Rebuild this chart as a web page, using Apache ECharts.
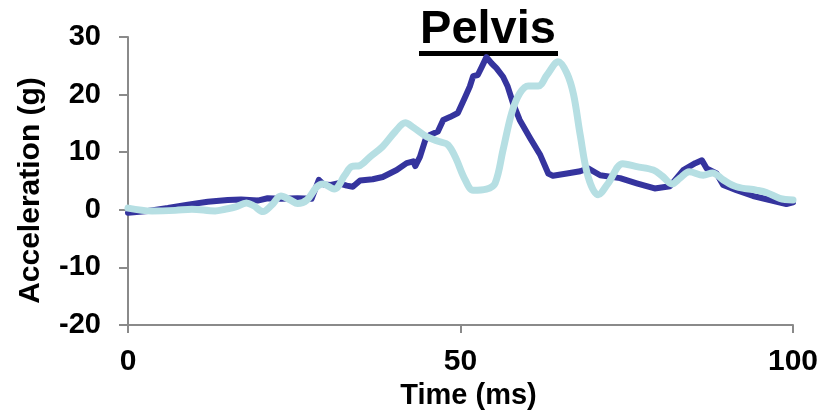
<!DOCTYPE html>
<html>
<head>
<meta charset="utf-8">
<script src="https://cdn.jsdelivr.net/npm/echarts@6/dist/echarts.min.js"></script>
<style>
  html, body { margin: 0; padding: 0; background: #ffffff; }
  #chart { width: 835px; height: 417px; }
</style>
</head>
<body>
<div id="chart"></div>
<script>
// Pelvis acceleration traces (g) against time (ms)
const chartTitle = 'Pelvis';
const xAxisTitle = 'Time (ms)';
const yAxisTitle = 'Acceleration (g)';

const xTicks = [0, 50, 100];
const yTicks = [-20, -10, 0, 10, 20, 30];

// Dark blue trace
const blueTime = [0, 3, 6, 9, 12, 15, 17, 19.5, 21, 23, 25.5, 27.6, 28.3, 28.7, 29.4, 30.5, 31.7, 32.9, 33.8, 34.9, 36.8, 38.3, 40.4, 41.9, 42.9, 43.2, 43.9, 44.7, 45.4, 46.6, 47.4, 48.4, 49.6, 50.7, 51.4, 51.9, 52.6, 53.2, 53.9, 54.7, 55.4, 56.4, 57.1, 57.9, 58.9, 60.5, 62, 63.2, 63.9, 66, 68, 69.2, 71, 74, 76.5, 79.2, 81.5, 83.5, 85.3, 86.3, 87, 88.5, 89.5, 91.5, 94, 96.5, 99, 100];
const blueAccel = [-0.5, -0.2, 0.3, 0.9, 1.4, 1.7, 1.8, 1.6, 2.0, 1.9, 2.0, 1.9, 4.0, 5.2, 4.4, 4.3, 4.6, 4.2, 4.0, 5.1, 5.3, 5.7, 6.9, 8.1, 8.4, 7.6, 9.2, 12.1, 13.0, 13.6, 15.6, 16.1, 16.8, 19.6, 21.4, 23.2, 23.4, 24.8, 26.5, 25.4, 24.6, 23.1, 21.4, 18.5, 15.6, 12.4, 9.5, 6.3, 5.9, 6.3, 6.7, 7.2, 6.0, 5.5, 4.6, 3.7, 4.1, 6.9, 8.1, 8.6, 7.2, 6.3, 4.3, 3.4, 2.4, 1.7, 1.0, 1.3];

// Light cyan trace
const cyanTime = [0, 3.6, 7.1, 9.6, 13.1, 14.6, 16.2, 17.8, 18.9, 20.3, 21.6, 23.0, 24.4, 25.5, 26.9, 28.4, 29.3, 31.0, 32.6, 33.6, 34.9, 36.4, 38.3, 40.2, 41.7, 42.9, 44.9, 46.9, 48.1, 49.2, 50.7, 51.9, 53.9, 55.2, 56.4, 57.7, 58.9, 60.2, 61.7, 63, 64.7, 66, 67, 68, 69.2, 70.7, 72.2, 74.4, 76.5, 79, 80.3, 81.8, 83, 84.4, 86.5, 87.9, 89.5, 91.5, 94.5, 96, 98, 100];
const cyanAccel = [0.3, -0.2, -0.1, 0.1, -0.2, 0.1, 0.5, 1.2, 0.7, -0.3, 0.8, 2.4, 1.7, 1.1, 1.7, 4.0, 4.5, 3.6, 6.0, 7.5, 7.7, 9.2, 11.0, 13.6, 15.1, 14.3, 12.7, 11.8, 11.3, 9.2, 5.2, 3.4, 3.6, 4.6, 10.4, 16.8, 20.2, 21.5, 21.5, 23.4, 25.7, 23.7, 20.0, 13.0, 5.7, 2.6, 4.6, 8.0, 7.5, 6.9, 5.9, 4.5, 5.5, 6.6, 6.0, 6.4, 5.2, 4.0, 3.4, 3.0, 2.0, 1.7];

const pairs = (xs, ys) => xs.map((x, i) => [x, ys[i]]);

const font = "'Liberation Sans', Arial, Helvetica, sans-serif";
const axisGray = '#8a8a8a';

const chart = echarts.init(document.getElementById('chart'), null, { renderer: 'canvas' });

chart.setOption({
  animation: false,
  backgroundColor: '#ffffff',
  grid: { left: 128, right: 42, top: 37, bottom: 92, containLabel: false },
  xAxis: {
    type: 'value',
    min: xTicks[0],
    max: xTicks[xTicks.length - 1],
    interval: xTicks[1] - xTicks[0],
    name: xAxisTitle,
    nameLocation: 'middle',
    nameGap: 56,
    nameTextStyle: { fontFamily: font, fontWeight: 'bold', fontSize: 29, color: '#000', padding: [0, 0, 0, 16] },
    axisLine: { onZero: false, lineStyle: { color: axisGray, width: 2 } },
    axisTick: { show: true, inside: false, length: 8, lineStyle: { color: axisGray, width: 2 } },
    axisLabel: { fontFamily: font, fontWeight: 'bold', fontSize: 30, color: '#000', margin: 22 },
    splitLine: { show: false }
  },
  yAxis: {
    type: 'value',
    min: yTicks[0],
    max: yTicks[yTicks.length - 1],
    interval: yTicks[1] - yTicks[0],
    name: yAxisTitle,
    nameLocation: 'middle',
    nameGap: 82,
    nameTextStyle: { fontFamily: font, fontWeight: 'bold', fontSize: 30, color: '#000', padding: [0, 19, 0, 0] },
    axisLine: { show: true, lineStyle: { color: axisGray, width: 2 } },
    axisTick: { show: true, inside: false, length: 9, lineStyle: { color: axisGray, width: 2 } },
    axisLabel: { fontFamily: font, fontWeight: 'bold', fontSize: 29, color: '#000', margin: 27 },
    splitLine: { show: false }
  },
  graphic: [
    {
      type: 'text',
      x: 488,
      y: 30,
      style: {
        text: chartTitle,
        x: 0,
        y: 0,
        align: 'center',
        verticalAlign: 'middle',
        font: "bold 47px " + font,
        fill: '#000'
      }
    },
    {
      type: 'rect',
      shape: { x: 419, y: 51, width: 139, height: 5 },
      style: { fill: '#000' }
    }
  ],
  series: [
    {
      name: 'blue',
      type: 'line',
      data: pairs(blueTime, blueAccel),
      showSymbol: false,
      smooth: false,
      lineStyle: { color: '#35349e', width: 6, join: 'round', cap: 'round' },
      z: 2
    },
    {
      name: 'cyan',
      type: 'line',
      data: pairs(cyanTime, cyanAccel),
      showSymbol: false,
      smooth: 0.35,
      lineStyle: { color: '#b6dfe3', width: 7, join: 'round', cap: 'round' },
      z: 3
    }
  ]
});
</script>
</body>
</html>
